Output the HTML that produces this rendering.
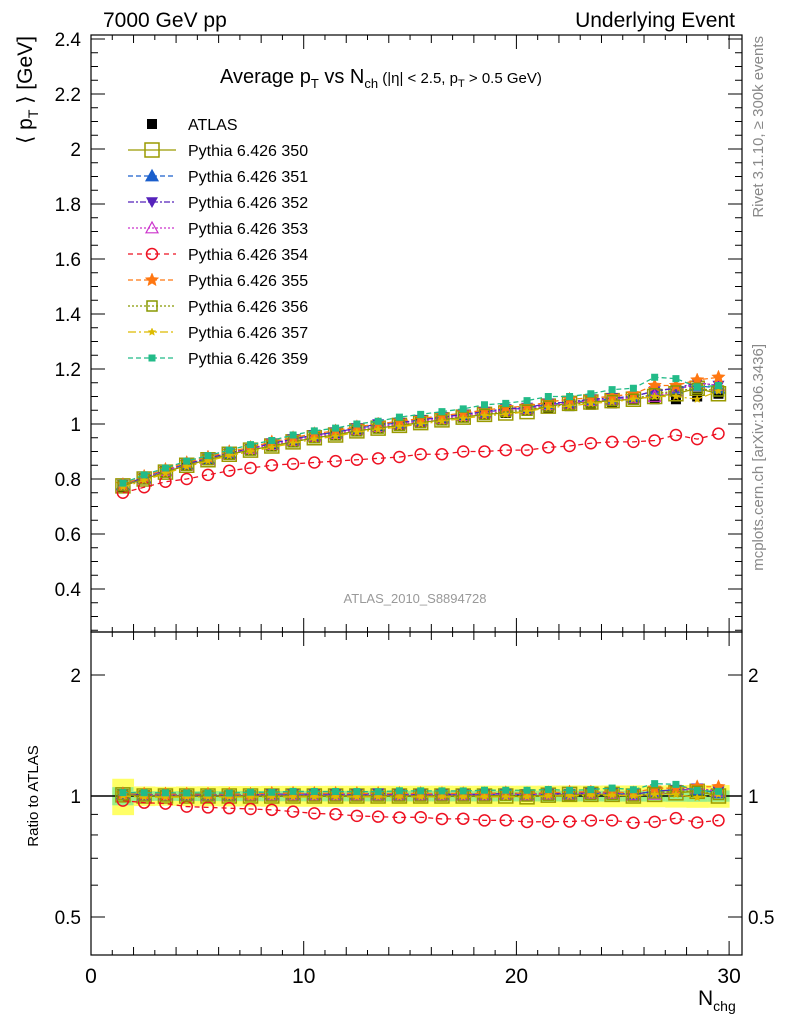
<!DOCTYPE html>
<html><head><meta charset="utf-8"><style>
body{margin:0;background:#fff;}
svg{display:block;font-family:"Liberation Sans",sans-serif;}
</style></head><body>
<svg id="c" width="786" height="1024" xmlns="http://www.w3.org/2000/svg"></svg>
<script>
const xVals=[1.5,2.5,3.5,4.5,5.5,6.5,7.5,8.5,9.5,10.5,11.5,12.5,13.5,14.5,15.5,16.5,17.5,18.5,19.5,20.5,21.5,22.5,23.5,24.5,25.5,26.5,27.5,28.5,29.5];
const atlas=[0.77,0.80,0.825,0.85,0.87,0.89,0.905,0.92,0.935,0.95,0.96,0.975,0.985,0.995,1.005,1.015,1.025,1.035,1.04,1.05,1.06,1.065,1.07,1.075,1.09,1.09,1.09,1.10,1.11];
const atlasErr=[0.08,0.045,0.045,0.048,0.05,0.052,0.053,0.055,0.056,0.057,0.058,0.059,0.06,0.06,0.061,0.062,0.062,0.063,0.063,0.064,0.065,0.066,0.066,0.067,0.068,0.068,0.07,0.072,0.072];
const s350=[0.775,0.80,0.825,0.85,0.87,0.89,0.905,0.92,0.935,0.95,0.96,0.975,0.985,0.995,1.005,1.015,1.025,1.035,1.04,1.045,1.065,1.075,1.08,1.085,1.09,1.10,1.11,1.13,1.11];
const s351=[0.78,0.805,0.83,0.855,0.875,0.895,0.91,0.93,0.945,0.96,0.97,0.985,0.995,1.005,1.015,1.025,1.035,1.045,1.05,1.06,1.07,1.08,1.085,1.09,1.10,1.12,1.13,1.14,1.13];
const s352=[0.78,0.805,0.83,0.855,0.875,0.895,0.91,0.93,0.945,0.96,0.97,0.985,1.0,1.005,1.015,1.025,1.035,1.045,1.055,1.06,1.075,1.08,1.09,1.095,1.10,1.12,1.13,1.15,1.14];
const s353=[0.775,0.80,0.83,0.85,0.87,0.89,0.91,0.925,0.94,0.955,0.965,0.98,0.99,1.0,1.01,1.02,1.03,1.04,1.05,1.055,1.07,1.075,1.085,1.09,1.095,1.10,1.12,1.15,1.14];
const s354=[0.75,0.77,0.79,0.80,0.815,0.83,0.84,0.85,0.855,0.86,0.865,0.87,0.875,0.88,0.89,0.89,0.90,0.90,0.905,0.905,0.915,0.92,0.93,0.935,0.935,0.94,0.96,0.945,0.965];
const s355=[0.78,0.81,0.835,0.86,0.88,0.90,0.915,0.935,0.95,0.965,0.975,0.99,1.0,1.01,1.02,1.03,1.04,1.05,1.06,1.065,1.08,1.09,1.095,1.10,1.11,1.14,1.14,1.16,1.17];
const s356=[0.775,0.80,0.825,0.85,0.87,0.89,0.905,0.92,0.935,0.95,0.96,0.975,0.985,0.995,1.005,1.015,1.025,1.035,1.045,1.05,1.065,1.07,1.08,1.085,1.09,1.11,1.12,1.13,1.12];
const s357=[0.77,0.795,0.82,0.845,0.865,0.885,0.90,0.915,0.93,0.945,0.955,0.97,0.98,0.99,1.0,1.01,1.02,1.03,1.035,1.045,1.06,1.065,1.075,1.08,1.09,1.10,1.10,1.09,1.12];
const s359=[0.785,0.815,0.84,0.865,0.885,0.905,0.925,0.94,0.96,0.975,0.985,1.0,1.01,1.025,1.035,1.045,1.055,1.07,1.075,1.085,1.10,1.10,1.11,1.125,1.13,1.17,1.165,1.135,1.14];
const names=["Pythia 6.426 350","Pythia 6.426 351","Pythia 6.426 352","Pythia 6.426 353","Pythia 6.426 354","Pythia 6.426 355","Pythia 6.426 356","Pythia 6.426 357","Pythia 6.426 359"];
const yTicksMain=[0.4,0.6,0.8,1,1.2,1.4,1.6,1.8,2,2.2,2.4];
const xTicks=[0,10,20,30];
const rTicks=[0.5,1,2];

const NS="http://www.w3.org/2000/svg";
const svg=document.getElementById('c');
const L=91,R=742,T=35,MB=632,RB=955;
const xs=v=>L+v*21.27;
const ym=v=>424-(v-1)*275;
const yr=v=>796-Math.log2(v)*121;
function el(tag,a,parent){const e=document.createElementNS(NS,tag);for(const k in a)e.setAttribute(k,a[k]);(parent||svg).appendChild(e);return e;}
function txt(s,x,y,a,parent){const e=el('text',Object.assign({x:x,y:y},a),parent);e.innerHTML=s;return e;}

const band=el('g',{});


xVals.forEach((x,i)=>{const r=atlasErr[i]/atlas[i];
 el('rect',{x:xs(x-0.5),y:yr(1+r),width:xs(1)-xs(0)+0.5,height:yr(1-r)-yr(1+r),fill:'#ffff66'},band);
 el('rect',{x:xs(x-0.5),y:yr(1+r*0.5),width:xs(1)-xs(0)+0.5,height:yr(1-r*0.5)-yr(1+r*0.5),fill:'#99ee88'},band);});
el('line',{x1:L,x2:R,y1:yr(1),y2:yr(1),stroke:'#000','stroke-width':1.5});

const fr=el('g',{fill:'none',stroke:'#000','stroke-width':1.2});


el('rect',{x:L,y:T,width:R-L,height:MB-T},fr);
el('rect',{x:L,y:MB,width:R-L,height:RB-MB},fr);
for(let v=0;v<=30.5;v+=1){const maj=v%10===0;const len=maj?14:(v%2===0?8:5);
 el('line',{x1:xs(v),x2:xs(v),y1:MB,y2:MB-len,stroke:'#000'});
 el('line',{x1:xs(v),x2:xs(v),y1:RB,y2:RB-len,stroke:'#000'});
 el('line',{x1:xs(v),x2:xs(v),y1:T,y2:T+len,stroke:'#000'});
 el('line',{x1:xs(v),x2:xs(v),y1:MB,y2:MB+len,stroke:'#000'});}
xTicks.forEach(v=>{const t=txt(v,xs(v),983,{'font-size':21,'text-anchor':'middle'});
 
 });
for(let v=0.25;v<=2.42;v+=0.05){const y=ym(v);if(y<T||y>MB)continue;const maj=Math.abs(v*5-Math.round(v*5))<0.01;const len=maj?14:7;
 el('line',{x1:L,x2:L+len,y1:y,y2:y,stroke:'#000'});el('line',{x1:R,x2:R-len,y1:y,y2:y,stroke:'#000'});}
yTicksMain.forEach(v=>{const t=txt(v,81,ym(v)+7,{'font-size':19,'text-anchor':'end'});
 
 });
[0.4,0.5,0.6,0.7,0.8,0.9,1,2].forEach(v=>{const y=yr(v);if(y>RB)return;const maj=rTicks.includes(v);const len=maj?14:7;
 el('line',{x1:L,x2:L+len,y1:y,y2:y,stroke:'#000'});el('line',{x1:R,x2:R-len,y1:y,y2:y,stroke:'#000'});});
rTicks.forEach(v=>{const t=txt(v,81,yr(v)+7,{'font-size':19,'text-anchor':'end'});
 
 
 const t2=txt(v,748,yr(v)+7,{'font-size':19});
 
 });

function marker(g,type,x,y,c,s){
 s=s||5;
 if(type==='sqF')el('rect',{x:x-s,y:y-s,width:2*s,height:2*s,fill:c},g);
 else if(type==='sqO')el('rect',{x:x-s,y:y-s,width:2*s,height:2*s,fill:'none',stroke:c,'stroke-width':1.5},g);
 else if(type==='triU'||type==='triUO')el('polygon',{points:`${x},${y-s} ${x-s},${y+s*0.8} ${x+s},${y+s*0.8}`,fill:type==='triU'?c:'none',stroke:c,'stroke-width':1.2},g);
 else if(type==='triD')el('polygon',{points:`${x},${y+s} ${x-s},${y-s*0.8} ${x+s},${y-s*0.8}`,fill:c},g);
 else if(type==='circ')el('circle',{cx:x,cy:y,r:s,fill:'none',stroke:c,'stroke-width':1.5},g);
 else if(type==='star'){let p=[];for(let k=0;k<10;k++){const r=k%2?s*0.45:s;const a=-Math.PI/2+k*Math.PI/5;p.push((x+r*Math.cos(a))+','+(y+r*Math.sin(a)));}
  el('polygon',{points:p.join(' '),fill:c,stroke:c,'stroke-width':0.5},g);}
}
const series=[
 {d:s350,c:'#9a9a00',m:'sqO',s:7,dash:''},
 {d:s351,c:'#1a5fcc',m:'triU',s:6,dash:'5,3'},
 {d:s352,c:'#5522bb',m:'triD',s:6,dash:'6,2,2,2'},
 {d:s353,c:'#cc33cc',m:'triUO',s:6,dash:'2,2'},
 {d:s354,c:'#ee1122',m:'circ',s:5.5,dash:'5,4'},
 {d:s355,c:'#ff7711',m:'star',s:7,dash:'5,3'},
 {d:s356,c:'#889900',m:'sqO',s:5,dash:'2,2'},
 {d:s357,c:'#ddbb00',m:'star',s:4,dash:'8,3,2,3'},
 {d:s359,c:'#22bb88',m:'sqF',s:3.5,dash:'5,3'}];
const seriesNames=['series-350','series-351','series-352','series-353','series-354','series-355','series-356','series-357','series-359'];
const ga=el('g',{});


xVals.forEach((x,i)=>marker(ga,'sqF',xs(x),ym(atlas[i]),'#000',5));
series.forEach((S,j)=>{
 const g=el('g',{});
 
 
 const gr=el('g',{});
 
 
 el('polyline',{points:xVals.map((x,i)=>xs(x)+','+ym(S.d[i])).join(' '),fill:'none',stroke:S.c,'stroke-width':1.3,'stroke-dasharray':S.dash},g);
 el('polyline',{points:xVals.map((x,i)=>xs(x)+','+yr(S.d[i]/atlas[i])).join(' '),fill:'none',stroke:S.c,'stroke-width':1.3,'stroke-dasharray':S.dash},gr);
 xVals.forEach((x,i)=>{marker(g,S.m,xs(x),ym(S.d[i]),S.c,S.s);marker(gr,S.m,xs(x),yr(S.d[i]/atlas[i]),S.c,S.s);});
});

const lg=el('g',{});


const le0=el('g',{},lg);


marker(le0,'sqF',152,124,'#000',5);
txt('ATLAS',188,130,{'font-size':16},le0);
series.forEach((S,j)=>{const y=150+j*26;
 const g=el('g',{},lg);
 
 
 el('line',{x1:128,x2:176,y1:y,y2:y,stroke:S.c,'stroke-width':1.3,'stroke-dasharray':S.dash},g);
 marker(g,S.m,152,y,S.c,S.s);
 txt(names[j],188,y+6,{'font-size':16},g);});

let t;
t=txt('7000 GeV pp',103,27,{'font-size':21});
t=txt('Underlying Event',735,27,{'font-size':21,'text-anchor':'end'});
t=txt('Average p<tspan font-size="13" dy="5">T</tspan><tspan dy="-5"> vs N</tspan><tspan font-size="13" dy="5">ch</tspan><tspan dy="-5" font-size="15"> (|η| &lt; 2.5, p</tspan><tspan font-size="11" dy="4">T</tspan><tspan dy="-4" font-size="15"> &gt; 0.5 GeV)</tspan>',220,83,{'font-size':20});

t=txt('⟨ p<tspan font-size="14" dy="6">T</tspan><tspan dy="-6"> ⟩ [GeV]</tspan>',0,0,{'font-size':21,'text-anchor':'end',transform:'translate(32,36) rotate(-90)'});

t=txt('Ratio to ATLAS',0,0,{'font-size':15,'text-anchor':'middle',transform:'translate(38,796) rotate(-90)'});

t=txt('N<tspan font-size="14" dy="6">chg</tspan>',698,1005,{'font-size':21});

t=txt('Rivet 3.1.10, ≥ 300k events',0,0,{'font-size':15,fill:'#888','text-anchor':'end',transform:'translate(763,36) rotate(-90)'});

t=txt('mcplots.cern.ch [arXiv:1306.3436]',0,0,{'font-size':15,fill:'#888','text-anchor':'end',transform:'translate(763,344) rotate(-90)'});

t=txt('ATLAS_2010_S8894728',415,603,{'font-size':13,fill:'#999','text-anchor':'middle'});

</script>
</body></html>
